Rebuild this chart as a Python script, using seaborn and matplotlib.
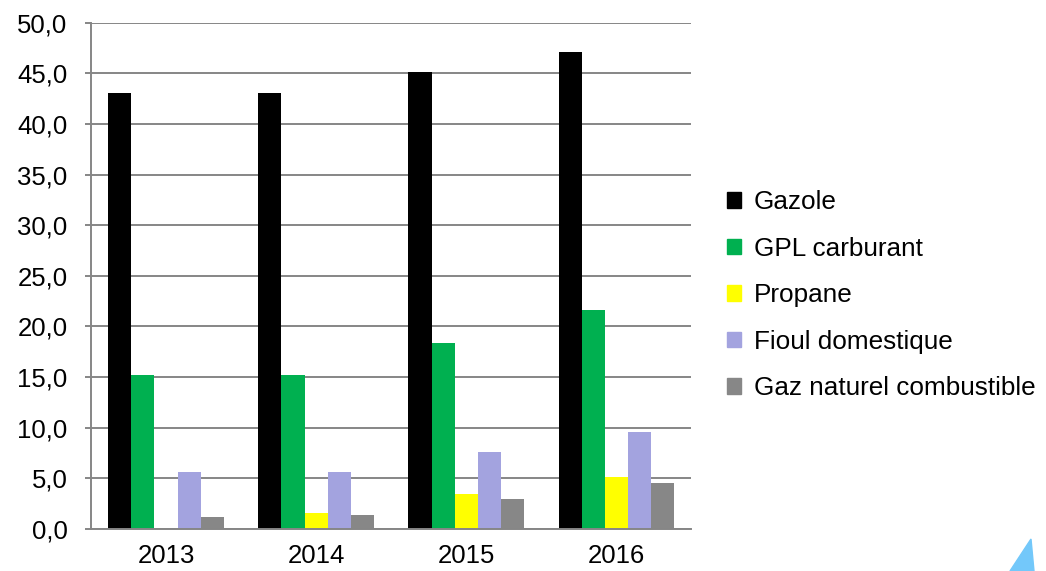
import pandas as pd
import matplotlib
matplotlib.use("Agg")
import matplotlib.pyplot as plt
from matplotlib.patches import Polygon
import seaborn as sns

# values
years = ["2013", "2014", "2015", "2016"]
gazole = [43.1, 43.1, 45.1, 47.1]
gpl_carburant = [15.2, 15.2, 18.4, 21.6]
propane = [0.0, 1.6, 3.4, 5.1]
fioul_domestique = [5.6, 5.6, 7.6, 9.6]
gaz_naturel = [1.2, 1.4, 2.9, 4.5]

series_names = ["Gazole", "GPL carburant", "Propane", "Fioul domestique",
                "Gaz naturel combustible"]
colors = ["#000000", "#00B050", "#FFFF00", "#A3A3DF", "#878787"]

# long form table for seaborn
rows = []
for name, vals in zip(series_names, [gazole, gpl_carburant, propane,
                                     fioul_domestique, gaz_naturel]):
    for y, v in zip(years, vals):
        rows.append({"year": y, "serie": name, "value": v})
df = pd.DataFrame(rows)

sns.set_style("white")
plt.rcParams["font.family"] = ["Liberation Sans", "DejaVu Sans"]
plt.rcParams["text.color"] = "black"

fig = plt.figure(figsize=(10.46, 5.71), dpi=100)
ax = fig.add_axes([0.087, 0.074, 0.574, 0.886])

sns.barplot(data=df, x="year", y="value", hue="serie", order=years,
            hue_order=series_names, palette=colors, width=0.77,
            saturation=1, linewidth=0, ax=ax, legend=False)

ax.set_ylim(0, 50)
ax.set_yticks(range(0, 51, 5))
ax.set_yticklabels([f"{v},0" for v in range(0, 51, 5)])
ax.set_xlim(-0.5, 3.5)
ax.set_xlabel("")
ax.set_ylabel("")

ax.yaxis.grid(True, color="#868686", linewidth=1.4)
ax.set_axisbelow(True)
for s in ["top", "right"]:
    ax.spines[s].set_visible(False)
for s in ["left", "bottom"]:
    ax.spines[s].set_color("#868686")
    ax.spines[s].set_linewidth(1.4)
ax.tick_params(axis="y", which="both", left=True, length=4, width=1.4,
               color="#868686", labelsize=18.5, pad=13, labelcolor="black")
ax.tick_params(axis="x", length=0, labelsize=18.5, pad=11, labelcolor="black")

# legend on the right
handles = [plt.Rectangle((0, 0), 1, 1, color=c) for c in colors]
fig.legend(handles, series_names, loc="center left",
           bbox_to_anchor=(0.695, 0.483), frameon=False, fontsize=18.8,
           handlelength=0.55, handleheight=0.55, handletextpad=0.48,
           labelspacing=0.86, borderaxespad=0, borderpad=0,
           labelcolor="black")

# small logo fragment in the bottom right corner
fig.patches.append(Polygon([[1010 / 1046, 0], [1034 / 1046, 0],
                            [1031 / 1046, 32 / 571]],
                           closed=True, transform=fig.transFigure,
                           color="#73C8FA"))

fig.savefig("out.png", dpi=100)
